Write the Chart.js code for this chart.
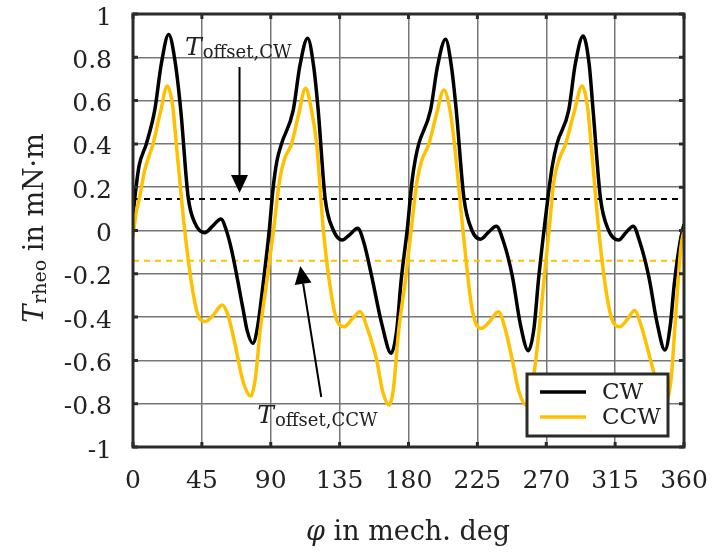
<!DOCTYPE html>
<html>
<head>
<meta charset="utf-8">
<script src="https://cdn.jsdelivr.net/npm/chart.js@4.4.1/dist/chart.umd.min.js"></script>
<style>
  html, body { margin: 0; padding: 0; background: #fff; }
  canvas { display: block; }
</style>
</head>
<body>
<canvas id="myChart" width="717" height="553"></canvas>
<script>
// CW curve: angle in mech. deg and torque in mN·m (one row per 90 deg period)
var cwAngles = [0, 2, 4, 8.7, 14.2, 18.5, 23.3, 27.3, 31.2, 36, 40.4, 46.9, 52, 57.4, 61, 64.4, 72, 74.5, 78.3, 81.5, 85.3, 89,
  91.6, 94, 97, 104.7, 109, 114.1, 118, 121, 125.5, 131, 136.8, 141.5, 146.8, 151, 156, 162.5, 168.7, 172.3, 175.2, 179.1,
  182.4, 184.5, 186.7, 194.4, 199, 204.2, 208, 211.2, 216.2, 221.5, 227.1, 232, 237.4, 242, 247.9, 253, 258.3, 262, 264.9, 268.5,
  271.4, 274, 277, 284.7, 289, 294.1, 298, 300.6, 305.4, 310.8, 317.4, 322, 326.8, 331, 337, 342.5, 347.5, 351, 353.6, 357.5, 360];
var cwValues = [0.07, 0.2, 0.3, 0.4, 0.556, 0.77, 0.905, 0.79, 0.556, 0.156, 0.035, -0.01, 0.02, 0.053, 0.0, -0.09, -0.367, -0.46, -0.521, -0.44, -0.23, 0.0,
  0.2, 0.32, 0.4, 0.556, 0.76, 0.888, 0.76, 0.556, 0.15, 0.0, -0.044, -0.02, 0.01, -0.06, -0.213, -0.43, -0.567, -0.46, -0.23, 0.0,
  0.233, 0.33, 0.4, 0.556, 0.76, 0.883, 0.76, 0.556, 0.15, 0.0, -0.04, -0.01, 0.02, -0.05, -0.213, -0.43, -0.555, -0.45, -0.23, 0.0,
  0.17, 0.3, 0.4, 0.556, 0.77, 0.898, 0.77, 0.556, 0.15, 0.0, -0.044, -0.01, 0.02, -0.05, -0.213, -0.43, -0.552, -0.44, -0.25, -0.05, 0.03];

// CCW curve
var ccwAngles = [0, 2, 4.4, 7.7, 13.1, 18, 22.4, 26, 28.3, 33.8, 39.3, 43, 47.3, 52.5, 58.3, 62, 66.5, 72, 77, 80, 83.1, 87.5,
  91.8, 95.8, 99, 103.6, 108, 112.8, 116.5, 120, 124.4, 129.9, 133.5, 138.1, 143, 148.4, 153, 159.2, 163, 167.3, 170, 173.6, 178,
  181.7, 185.7, 188.5, 193.3, 198, 203.1, 207, 210, 215.6, 221, 224, 227.8, 233, 238.7, 243, 247.9, 252, 257, 259.5, 262, 265.5, 268.5,
  271.8, 275.1, 278, 282.6, 288, 293.4, 297, 299.3, 304.3, 309.8, 313.5, 318.1, 323, 327.7, 332, 338.2, 342.8, 347.3, 351.5, 354.7, 358, 360];
var ccwValues = [-0.03, 0.08, 0.156, 0.28, 0.4, 0.55, 0.667, 0.57, 0.4, 0.0, -0.29, -0.4, -0.42, -0.39, -0.344, -0.39, -0.52, -0.7, -0.765, -0.68, -0.46, -0.23,
  0.0, 0.233, 0.33, 0.4, 0.53, 0.657, 0.56, 0.4, 0.0, -0.31, -0.42, -0.444, -0.41, -0.375, -0.45, -0.598, -0.74, -0.806, -0.74, -0.46, -0.23,
  0.0, 0.233, 0.32, 0.4, 0.53, 0.649, 0.56, 0.4, 0.0, -0.34, -0.43, -0.452, -0.42, -0.375, -0.45, -0.6, -0.74, -0.806, -0.75, -0.66, -0.45, -0.23,
  0.0, 0.233, 0.32, 0.4, 0.54, 0.667, 0.57, 0.4, 0.0, -0.31, -0.42, -0.444, -0.41, -0.37, -0.44, -0.6, -0.72, -0.8, -0.69, -0.38, -0.075, 0.0];

// mean offsets
var offsetCW = 0.145;
var offsetCCW = -0.14;

var seriesNames = ["CW", "CCW"];
var xTicks = [0, 45, 90, 135, 180, 225, 270, 315, 360];
var yTicks = [-1, -0.8, -0.6, -0.4, -0.2, 0, 0.2, 0.4, 0.6, 0.8, 1];

// annotation anchors in data coordinates [deg, value]
var arrowCW = { from: [69.6, 0.755], to: [69.6, 0.173] };
var arrowCCW = { from: [123, -0.769], to: [109.3, -0.164] };
var labelCW = { at: [34, 0.81], sub: "offset,CW" };
var labelCCW = { at: [81.2, -0.889], sub: "offset,CCW" };

var black = "#000000";
var yellow = "#ffc000";
var frameColor = "#2b2b2b";
var textColor = "#222222";
var fontFamily = "'DejaVu Serif', serif";

function toPoints(xs, ys) {
  return xs.map(function (x, i) {
    return { x: x, y: ys[i] };
  });
}

// draw "T" with a subscript, returns end x
function drawSubText(ctx, x, y, main, sub, mainSize, subSize, rest) {
  ctx.font = "italic " + mainSize + "px " + fontFamily;
  ctx.fillText(main, x, y);
  x += ctx.measureText(main).width + 1;
  ctx.font = subSize + "px " + fontFamily;
  ctx.fillText(sub, x, y + 3);
  x += ctx.measureText(sub).width;
  if (rest) {
    ctx.font = mainSize + "px " + fontFamily;
    ctx.fillText(rest, x, y);
    x += ctx.measureText(rest).width;
  }
  return x;
}

function subTextWidth(ctx, main, sub, mainSize, subSize, rest) {
  ctx.font = "italic " + mainSize + "px " + fontFamily;
  var w = ctx.measureText(main).width + 1;
  ctx.font = subSize + "px " + fontFamily;
  w += ctx.measureText(sub).width;
  ctx.font = mainSize + "px " + fontFamily;
  w += ctx.measureText(rest).width;
  return w;
}

function drawArrow(ctx, x1, y1, x2, y2) {
  var ang = Math.atan2(y2 - y1, x2 - x1);
  var len = 18, half = 8.5;
  var bx = x2 - len * Math.cos(ang), by = y2 - len * Math.sin(ang);
  ctx.strokeStyle = black;
  ctx.lineWidth = 2;
  ctx.beginPath();
  ctx.moveTo(x1, y1);
  ctx.lineTo(bx, by);
  ctx.stroke();
  ctx.fillStyle = black;
  ctx.beginPath();
  ctx.moveTo(x2, y2);
  ctx.lineTo(bx + half * Math.sin(ang), by - half * Math.cos(ang));
  ctx.lineTo(bx - half * Math.sin(ang), by + half * Math.cos(ang));
  ctx.closePath();
  ctx.fill();
}

var decorPlugin = {
  id: "decor",
  afterDatasetsDraw: function (chart) {
    var ctx = chart.ctx;
    var xs = chart.scales.x, ys = chart.scales.y;
    var area = chart.chartArea;
    function px(p) { return [xs.getPixelForValue(p[0]), ys.getPixelForValue(p[1])]; }

    ctx.save();
    // arrows
    var a = px(arrowCW.from), b = px(arrowCW.to);
    drawArrow(ctx, a[0], a[1], b[0], b[1]);
    a = px(arrowCCW.from); b = px(arrowCCW.to);
    drawArrow(ctx, a[0], a[1], b[0], b[1]);

    // annotation labels
    ctx.fillStyle = textColor;
    ctx.textBaseline = "alphabetic";
    ctx.textAlign = "left";
    var p = px(labelCW.at);
    drawSubText(ctx, p[0], p[1], "T", labelCW.sub, 25, 18);
    p = px(labelCCW.at);
    drawSubText(ctx, p[0], p[1], "T", labelCCW.sub, 25, 18);

    // frame
    ctx.strokeStyle = frameColor;
    ctx.lineWidth = 3;
    ctx.strokeRect(area.left, area.top, area.right - area.left, area.bottom - area.top);

    // inward tick marks
    ctx.lineWidth = 3;
    ctx.beginPath();
    xTicks.forEach(function (t) {
      var x = xs.getPixelForValue(t);
      ctx.moveTo(x, area.bottom); ctx.lineTo(x, area.bottom - 5);
      ctx.moveTo(x, area.top); ctx.lineTo(x, area.top + 5);
    });
    yTicks.forEach(function (t) {
      var y = ys.getPixelForValue(t);
      ctx.moveTo(area.left, y); ctx.lineTo(area.left + 5, y);
      ctx.moveTo(area.right, y); ctx.lineTo(area.right - 5, y);
    });
    ctx.stroke();

    // legend box
    var lx = area.right - 157, ly = area.bottom - 73, lw = 141, lh = 62;
    ctx.fillStyle = "#ffffff";
    ctx.fillRect(lx, ly, lw, lh);
    ctx.strokeStyle = frameColor;
    ctx.lineWidth = 3;
    ctx.strokeRect(lx, ly, lw, lh);
    var colors = [black, yellow];
    ctx.font = "23px " + fontFamily;
    ctx.textBaseline = "middle";
    seriesNames.forEach(function (name, i) {
      var yy = ly + 18 + i * 25;
      ctx.strokeStyle = colors[i];
      ctx.lineWidth = 3.5;
      ctx.beginPath();
      ctx.moveTo(lx + 13, yy);
      ctx.lineTo(lx + 59, yy);
      ctx.stroke();
      ctx.fillStyle = textColor;
      ctx.fillText(name, lx + 75, yy + 1);
    });

    // axis titles
    ctx.fillStyle = textColor;
    ctx.textBaseline = "alphabetic";
    var restX = " in mech. deg";
    ctx.font = "italic 27px " + fontFamily;
    var phiW = ctx.measureText("\u03c6").width;
    ctx.font = "27px " + fontFamily;
    var restW = ctx.measureText(restX).width;
    var cx = 408 - (phiW + restW) / 2;
    ctx.font = "italic 27px " + fontFamily;
    ctx.fillText("\u03c6", cx, 540);
    ctx.font = "27px " + fontFamily;
    ctx.fillText(restX, cx + phiW, 540);

    ctx.translate(43, 228);
    ctx.rotate(-Math.PI / 2);
    var w = subTextWidth(ctx, "T", "rheo", 27, 19, " in mN\u00b7m");
    drawSubText(ctx, -w / 2, 0, "T", "rheo", 27, 19, " in mN\u00b7m");
    ctx.restore();
  }
};

// drop the automatic label overflow padding so the plot box stays put
function noPadding(scale) {
  scale.paddingTop = 0;
  scale.paddingBottom = 0;
  scale.paddingLeft = 0;
  scale.paddingRight = 0;
}

var ctx = document.getElementById("myChart").getContext("2d");
var myChart = new Chart(ctx, {
  type: "line",
  data: {
    datasets: [
      {
        label: seriesNames[1],
        data: toPoints(ccwAngles, ccwValues),
        borderColor: yellow,
        borderWidth: 3.5,
        pointRadius: 0,
        cubicInterpolationMode: "monotone",
        order: 0,
      },
      {
        label: seriesNames[0],
        data: toPoints(cwAngles, cwValues),
        borderColor: black,
        borderWidth: 3.5,
        pointRadius: 0,
        cubicInterpolationMode: "monotone",
        order: 1,
      },
      {
        label: "offset CW",
        data: [{ x: 0, y: offsetCW }, { x: 360, y: offsetCW }],
        borderColor: black,
        borderWidth: 2,
        borderDash: [6, 5],
        pointRadius: 0,
        order: 2,
      },
      {
        label: "offset CCW",
        data: [{ x: 0, y: offsetCCW }, { x: 360, y: offsetCCW }],
        borderColor: yellow,
        borderWidth: 2,
        borderDash: [6, 5],
        pointRadius: 0,
        order: 3,
      },
    ],
  },
  options: {
    responsive: false,
    animation: false,
    devicePixelRatio: 1,
    layout: { padding: { top: 14, right: 33, left: 0, bottom: 0 } },
    plugins: { legend: { display: false }, tooltip: { enabled: false } },
    scales: {
      x: {
        type: "linear",
        min: 0,
        max: 360,
        afterBuildTicks: function (scale) {
          scale.ticks = xTicks.map(function (v) { return { value: v }; });
        },
        afterFit: function (scale) { scale.height = 106; noPadding(scale); },
        grid: { color: "#777777", lineWidth: 1.5, drawTicks: false },
        border: { display: false },
        ticks: {
          padding: 19,
          color: textColor,
          font: { family: fontFamily, size: 25 },
          callback: function (v) { return String(v); },
        },
      },
      y: {
        type: "linear",
        min: -1,
        max: 1,
        afterBuildTicks: function (scale) {
          scale.ticks = yTicks.map(function (v) { return { value: v }; });
        },
        afterFit: function (scale) { scale.width = 133; noPadding(scale); },
        grid: { color: "#777777", lineWidth: 1.5, drawTicks: false },
        border: { display: false },
        ticks: {
          padding: 21,
          labelOffset: 4,
          color: textColor,
          font: { family: fontFamily, size: 25 },
          callback: function (v) { return String(Math.round(v * 10) / 10); },
        },
      },
    },
  },
  plugins: [decorPlugin],
});
</script>
</body>
</html>
